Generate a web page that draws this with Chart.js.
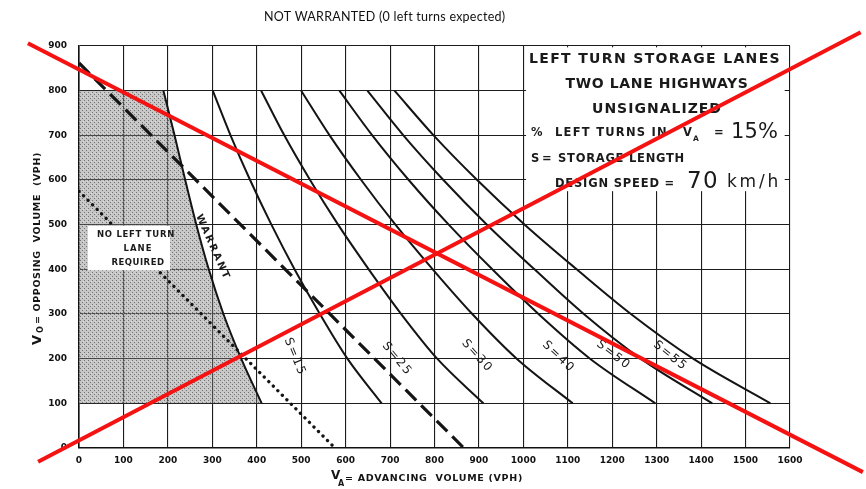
<!DOCTYPE html>
<html>
<head>
<meta charset="utf-8">
<script src="https://cdn.jsdelivr.net/npm/chart.js@4/dist/chart.umd.min.js"></script>
<style>
  html, body { margin: 0; padding: 0; background: #fff; }
  #wrap { width: 866px; height: 489px; position: relative; }
</style>
</head>
<body>
<div id="wrap"><canvas id="c" width="866" height="489"></canvas></div>
<script>
// Opposing volume levels (vph) at which each curve is read
const opposingLevels = [800, 700, 600, 500, 400, 300, 200, 100];
// Advancing volume (vph) of each curve at those opposing levels
const warrantX = [190, 215, 239, 264, 292, 325, 365, 411];
const s15X = [301, 341, 385, 433, 485, 542, 604, 681];
const s25X = [410, 462, 520, 583, 652, 725, 806, 910];
const s30X = [500, 564, 635, 712, 796, 885, 985, 1111];
const s40X = [586, 660, 742, 832, 930, 1034, 1150, 1297];
const s50X = [649, 730, 820, 918, 1025, 1136, 1264, 1425];
const s55X = [710, 798, 896, 1003, 1120, 1242, 1382, 1556];
const storageLabels = ['S=15', 'S=25', 'S=30', 'S=40', 'S=50', 'S=55'];
// Straight reference lines: [advancing, opposing] end points
const dashedLine = [[0, 862], [866, 0]];
const dottedLine = [[0, 575], [576, 0]];
// Red cross drawn over the nomograph
const crossA = [[-115, 906], [1764, -54]];
const crossB = [[-92, -31], [1759, 931]];
// Axis ranges and tick step
const xRange = [0, 1600];
const yRange = [0, 900];
const tickStep = 100;

const pts = (xs, ys) => xs.map((v, i) => ({ x: v, y: ys[i] }));
const pairs = arr => arr.map(p => ({ x: p[0], y: p[1] }));

const ink = '#141414';
const canvas = document.getElementById('c');
const ctx0 = canvas.getContext('2d');

// stippled grey tone for the "no left turn lane" zone
function stipple() {
  const t = document.createElement('canvas');
  t.width = 4; t.height = 4;
  const g = t.getContext('2d');
  g.fillStyle = 'rgba(130,130,130,0.45)';
  g.fillRect(0, 0, 4, 4);
  g.fillStyle = 'rgba(50,50,50,0.55)';
  g.fillRect(0, 0, 1, 1);
  g.fillRect(2, 2, 1, 1);
  g.fillStyle = 'rgba(255,255,255,0.35)';
  g.fillRect(3, 1, 1, 1);
  return ctx0.createPattern(t, 'repeat');
}

const zone = [{ x: 0, y: opposingLevels[7] }, { x: 0, y: opposingLevels[0] }]
  .concat(pts(warrantX, opposingLevels))
  .concat([{ x: 0, y: opposingLevels[7] }]);

const curve = (data) => ({
  data, borderColor: ink, borderWidth: 2, pointRadius: 0,
  cubicInterpolationMode: 'monotone', fill: false
});
const redLine = (data) => ({
  data, borderColor: '#f41212', borderWidth: 4, pointRadius: 0, tension: 0, fill: false, clip: false
});

// draw text stretched to a target width with letter spacing
function spaced(ctx, text, x, y, width, align) {
  ctx.letterSpacing = '0px';
  const w = ctx.measureText(text).width;
  const n = [...text].length;
  const ls = width ? (width - w) / n : 0;
  ctx.letterSpacing = ls + 'px';
  ctx.textAlign = 'left';
  const left = align === 'center' ? x - width / 2 : x;
  ctx.fillText(text, left, y);
  ctx.letterSpacing = '0px';
}

const decor = {
  id: 'decor',
  afterDatasetDraw(chart, args) {
    if (args.index !== 2) return;
    const { ctx } = chart;
    const X = chart.scales.x, Y = chart.scales.y;
    ctx.save();
    ctx.fillStyle = '#fff';
    // panel for the "no left turn lane" note
    let x0 = X.getPixelForValue(20), x1 = X.getPixelForValue(205);
    let y0 = Y.getPixelForValue(497), y1 = Y.getPixelForValue(398);
    ctx.fillRect(x0, y0, x1 - x0, y1 - y0);
    // heading panel, upper right
    x0 = X.getPixelForValue(1006); x1 = X.getPixelForValue(1588);
    y0 = Y.getPixelForValue(897); y1 = Y.getPixelForValue(575);
    ctx.fillRect(x0, y0, x1 - x0, y1 - y0);

    ctx.fillStyle = '#1a1a1a';
    ctx.textBaseline = 'alphabetic';
    ctx.font = 'bold 14px "DejaVu Sans"';
    spaced(ctx, 'LEFT TURN STORAGE LANES', 655, 63, 252, 'center');
    spaced(ctx, 'TWO LANE HIGHWAYS', 657, 88, 183, 'center');
    spaced(ctx, 'UNSIGNALIZED', 657, 113, 130, 'center');
    ctx.font = 'bold 11.5px "DejaVu Sans"';
    spaced(ctx, '%', 531, 136, 12);
    spaced(ctx, 'LEFT TURNS IN', 555, 136, 113);
    ctx.fillText('V', 683, 136);
    ctx.font = 'bold 7.5px "DejaVu Sans"';
    ctx.fillText('A', 693, 141);
    ctx.font = 'bold 11.5px "DejaVu Sans"';
    ctx.fillText('=', 714, 136);
    ctx.font = '21px "DejaVu Sans"';
    spaced(ctx, '15%', 731, 138, 47);
    ctx.font = 'bold 11.5px "DejaVu Sans"';
    spaced(ctx, 'S', 531, 162, 9);
    ctx.fillText('=', 542, 162);
    spaced(ctx, 'STORAGE LENGTH', 558, 162, 127);
    spaced(ctx, 'DESIGN SPEED =', 555, 187, 120);
    ctx.font = '23px "DejaVu Sans"';
    spaced(ctx, '70', 687, 188, 32);
    ctx.font = '17px "DejaVu Sans"';
    spaced(ctx, 'km/h', 727, 187, 54);

    // note inside the shaded zone
    ctx.font = 'bold 8.5px "DejaVu Sans"';
    spaced(ctx, 'NO LEFT TURN', 136, 237, 78, 'center');
    spaced(ctx, 'LANE', 138, 251, 29, 'center');
    spaced(ctx, 'REQUIRED', 138, 265, 53, 'center');

    // WARRANT label along its curve
    ctx.save();
    ctx.translate(X.getPixelForValue(301), Y.getPixelForValue(449));
    ctx.rotate(66 * Math.PI / 180);
    ctx.font = 'bold 10px "DejaVu Sans"';
    ctx.textBaseline = 'middle';
    spaced(ctx, 'WARRANT', 0, 0, 71, 'center');
    ctx.restore();

    // storage length labels
    const spots = [[486, 204, 68], [716, 199, 50], [896, 206, 48], [1079, 204, 44], [1203, 208, 38], [1331, 206, 39]];
    ctx.font = '12px "DejaVu Sans"';
    spots.forEach((s, i) => {
      ctx.save();
      ctx.translate(X.getPixelForValue(s[0]), Y.getPixelForValue(s[1]));
      ctx.rotate(s[2] * Math.PI / 180);
      ctx.textBaseline = 'middle';
      spaced(ctx, storageLabels[i], 0, 0, 40, 'center');
      ctx.restore();
    });
    ctx.restore();
  },
  afterDraw(chart) {
    const { ctx } = chart;
    ctx.save();
    ctx.fillStyle = '#111';
    // heading above the chart
    ctx.font = '12.5px Lato';
    ctx.textBaseline = 'middle';
    spaced(ctx, 'NOT WARRANTED (0 left turns expected)', 264, 17, 241);

    ctx.fillStyle = ink;
    ctx.textBaseline = 'alphabetic';
    // x axis title
    ctx.font = 'bold 12px "DejaVu Sans"';
    ctx.fillText('V', 331, 479);
    ctx.font = 'bold 8px "DejaVu Sans"';
    ctx.fillText('A', 338, 486);
    ctx.font = 'bold 9.5px "DejaVu Sans"';
    spaced(ctx, '= ADVANCING  VOLUME (VPH)', 345, 481, 178);

    // y axis title
    ctx.save();
    ctx.translate(40, 248);
    ctx.rotate(-Math.PI / 2);
    ctx.font = 'bold 13px "DejaVu Sans"';
    ctx.fillText('V', -97, 1);
    ctx.font = 'bold 8px "DejaVu Sans"';
    ctx.fillText('O', -85, 3);
    ctx.font = 'bold 9.5px "DejaVu Sans"';
    spaced(ctx, '= OPPOSING  VOLUME  (VPH)', -76, 0, 172);
    ctx.restore();
    ctx.restore();
  }
};

const tickFont = { family: 'DejaVu Sans', weight: 'bold', size: 9 };

new Chart(canvas, {
  type: 'line',
  data: {
    datasets: [
      redLine(pairs(crossA)),
      redLine(pairs(crossB)),
      curve(pts(s55X, opposingLevels)),
      curve(pts(s50X, opposingLevels)),
      curve(pts(s40X, opposingLevels)),
      curve(pts(s30X, opposingLevels)),
      curve(pts(s25X, opposingLevels)),
      curve(pts(s15X, opposingLevels)),
      curve(pts(warrantX, opposingLevels)),
      { data: pairs(dashedLine), borderColor: ink, borderWidth: 3.2, borderDash: [15, 7], pointRadius: 0, tension: 0, fill: false },
      { data: pairs(dottedLine), borderColor: ink, borderWidth: 3.3, borderDash: [0.1, 6.3], borderCapStyle: 'round', pointRadius: 0, tension: 0, fill: false },
      { data: zone, borderWidth: 0, borderColor: 'rgba(0,0,0,0)', backgroundColor: stipple(), pointRadius: 0, tension: 0, fill: 'shape' }
    ]
  },
  options: {
    responsive: false,
    animation: false,
    events: [],
    layout: { padding: { top: 46, right: 76, left: 0, bottom: 0 } },
    plugins: { legend: { display: false }, title: { display: false }, tooltip: { enabled: false } },
    scales: {
      x: {
        type: 'linear', min: xRange[0], max: xRange[1],
        afterFit(s) { s.height = 41; },
        grid: { color: '#1c1c1c', lineWidth: 1.1, drawTicks: false },
        border: { display: true, color: '#111', width: 1.6 },
        ticks: { stepSize: tickStep, padding: 7, color: '#111', font: tickFont, callback: v => String(v) }
      },
      y: {
        type: 'linear', min: yRange[0], max: yRange[1],
        afterFit(s) { s.width = 79; },
        grid: { color: '#1c1c1c', lineWidth: 1.1, drawTicks: false },
        border: { display: true, color: '#111', width: 1.6 },
        ticks: { stepSize: tickStep, padding: 12, color: '#111', font: tickFont, callback: v => String(v) }
      }
    }
  },
  plugins: [decor]
});
</script>
</body>
</html>
